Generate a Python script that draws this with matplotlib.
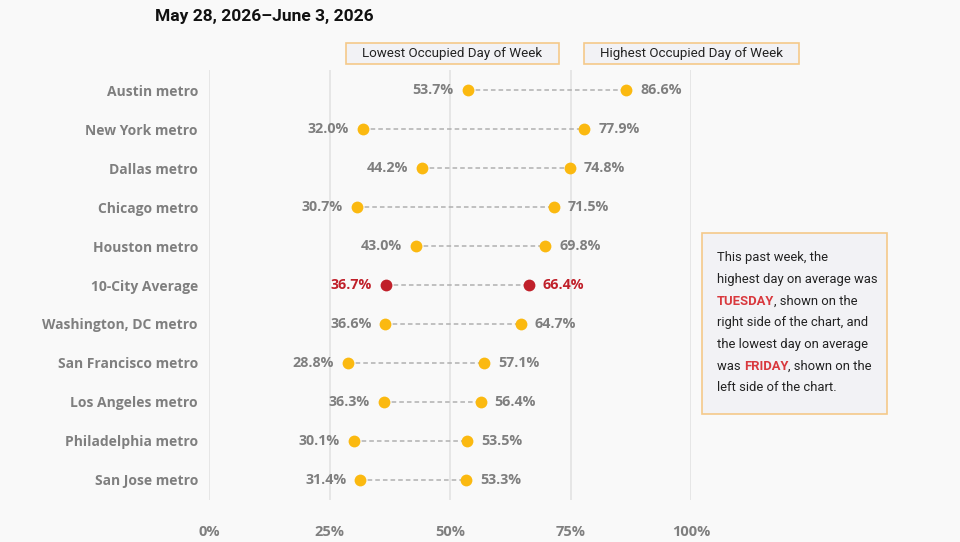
import matplotlib
matplotlib.use("Agg")
import matplotlib.pyplot as plt
from matplotlib.patches import Rectangle
from matplotlib.text import Annotation

# 数据
metros = ["Austin metro", "New York metro", "Dallas metro", "Chicago metro",
          "Houston metro", "10-City Average", "Washington, DC metro",
          "San Francisco metro", "Los Angeles metro", "Philadelphia metro",
          "San Jose metro"]
lowest = [53.7, 32.0, 44.2, 30.7, 43.0, 36.7, 36.6, 28.8, 36.3, 30.1, 31.4]
highest = [86.6, 77.9, 74.8, 71.5, 69.8, 66.4, 64.7, 57.1, 56.4, 53.5, 53.3]
xticks = [0, 25, 50, 75, 100]
xtick_labels = ["0%", "25%", "50%", "75%", "100%"]
title = "May 28, 2026\u2013June 3, 2026"
avg_name = "10-City Average"
legend_labels = ["Lowest Occupied Day of Week", "Highest Occupied Day of Week"]

BG = "#f9f9f9"
GOLD = "#fbb910"
RED = "#c0202a"
GRAY = "#7f7f7f"
LINE = "#b0b0b0"
HL = "#d9393e"
DARK = "#222222"
LAB_FONT = "Open Sans"

fig = plt.figure(figsize=(9.6, 5.42), dpi=100, facecolor=BG)
ax = fig.add_axes([209 / 960, 1 - 500 / 542, 482 / 960, 430 / 542])
ax.set_facecolor(BG)
ax.set_xlim(0, 100)
ax.set_ylim(len(metros) - 1 + 0.513, -0.513)

for xv in xticks:
    ax.axvline(xv, color="#e3e3e3", lw=1.2, zorder=0)

for i, (name, lo, hi) in enumerate(zip(metros, lowest, highest)):
    c = RED if name == avg_name else GOLD
    tc = RED if name == avg_name else GRAY
    ax.plot([lo, hi], [i, i], ls=(0, (3, 2)), color=LINE, lw=1.1, zorder=1)
    ax.plot([lo, hi], [i, i], 'o', color=c, ms=8.5, mec="none", zorder=2)
    ax.annotate(f"{lo:.1f}%", (lo, i), xytext=(-10, 0), textcoords="offset points",
                ha="right", va="center", color=tc, fontsize=10.3,
                fontweight="bold", family=LAB_FONT)
    ax.annotate(f"{hi:.1f}%", (hi, i), xytext=(10, 0), textcoords="offset points",
                ha="left", va="center", color=tc, fontsize=10.3,
                fontweight="bold", family=LAB_FONT)

ax.set_yticks(range(len(metros)))
ax.set_yticklabels(metros, fontsize=10, fontweight="bold", color=GRAY, family=LAB_FONT)
ax.set_xticks(xticks)
ax.set_xticklabels(xtick_labels, fontsize=10.5, fontweight="bold", color=GRAY, family=LAB_FONT)
ax.tick_params(axis="y", length=0, pad=8)
ax.tick_params(axis="x", length=0, pad=18)
for s in ax.spines.values():
    s.set_visible(False)

# 标题
fig.text(155 / 960, 1 - 17 / 542, title, ha="left", va="center",
         fontsize=12.5, fontweight="bold", family="Roboto", color="#111111")

# 图例框
for (x0, x1), txt in zip([(346, 559), (584, 799)], legend_labels):
    fig.patches.append(Rectangle((x0 / 960, 1 - 64 / 542), (x1 - x0) / 960, 21 / 542,
                                 transform=fig.transFigure, facecolor="#f2f2f5",
                                 edgecolor="#f5c98a", lw=1.2))
    fig.text((x0 + x1) / 2 / 960, 1 - 53.5 / 542, txt, ha="center", va="center",
             fontsize=9.6, family="Roboto", color=DARK)

# 说明框
fig.patches.append(Rectangle((702 / 960, 1 - 414 / 542), 185 / 960, 181 / 542,
                             transform=fig.transFigure, facecolor="#f2f2f5",
                             edgecolor="#f5c98a", lw=1.2))
note_lines = [
    [("This past week, the", DARK, "normal")],
    [("highest day on average was", DARK, "normal")],
    [("TUESDAY", HL, "bold"), (", shown on the", DARK, "normal")],
    [("right side of the chart, and", DARK, "normal")],
    [("the lowest day on average", DARK, "normal")],
    [("was ", DARK, "normal"), ("FRIDAY", HL, "bold"), (", shown on the", DARK, "normal")],
    [("left side of the chart.", DARK, "normal")],
]
y0 = 258
for k, parts in enumerate(note_lines):
    yy = 1 - (y0 + k * 21.6) / 542
    prev = None
    for txt, col, wt in parts:
        kw = dict(fontsize=9.4, family="Roboto", color=col, fontweight=wt,
                  ha="left", va="center")
        if prev is None:
            prev = fig.text(717 / 960, yy, txt, **kw)
        else:
            # 接在前一段文字右边
            ann = Annotation(txt, xy=(1, 0.5), xycoords=prev, **kw)
            fig.add_artist(ann)
            prev = ann

plt.savefig("out.png", dpi=100, facecolor=BG)
